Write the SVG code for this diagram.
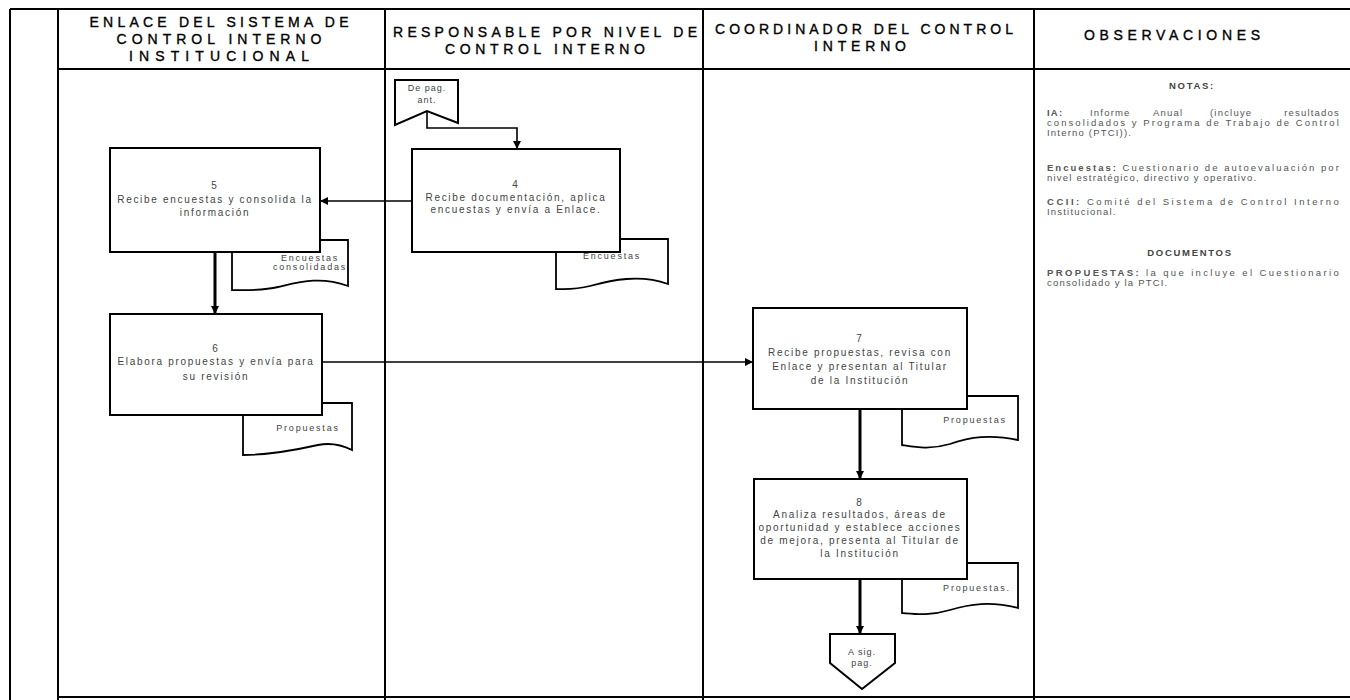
<svg xmlns="http://www.w3.org/2000/svg" width="1350" height="700" viewBox="0 0 1350 700">
<defs>
<marker id="arr" markerWidth="8" markerHeight="8" refX="7" refY="4" orient="auto" markerUnits="userSpaceOnUse">
<path d="M0,0 L8,4 L0,8 Z" fill="#000"/>
</marker>
<style>
.frame{stroke:#000;stroke-width:2;fill:none}
.box{fill:#fff;stroke:#000;stroke-width:2}
.doc{fill:#fff;stroke:#000;stroke-width:1.8}
.hd{font-family:"Liberation Sans",Arial,sans-serif;font-size:14px;fill:#000;stroke:#000;stroke-width:0.35;text-anchor:middle}
.bt{font-family:"Liberation Sans",Arial,sans-serif;font-size:10px;fill:#444;text-anchor:middle;letter-spacing:1.7px}
.dt{font-family:"Liberation Sans",Arial,sans-serif;font-size:9px;fill:#444;text-anchor:middle;letter-spacing:1.8px}
.nt{font-family:"Liberation Sans",Arial,sans-serif;font-size:9.5px;fill:#555;letter-spacing:1.2px}
.nh{font-family:"Liberation Sans",Arial,sans-serif;font-size:9.5px;fill:#444;font-weight:bold;text-anchor:middle;letter-spacing:1.7px}
.nb{font-weight:bold}
.con{stroke:#000;stroke-width:1.6;fill:none}
.conT{stroke:#000;stroke-width:3;fill:none}
</style>
</defs>
<rect width="1350" height="700" fill="#fff"/>

<g id="frame">
<line class="frame" x1="10" y1="9" x2="1350" y2="9"/>
<line class="frame" x1="58" y1="69" x2="1350" y2="69"/>
<line class="frame" x1="10" y1="9" x2="10" y2="700"/>
<line class="frame" x1="58" y1="9" x2="58" y2="700"/>
<line class="frame" x1="385" y1="9" x2="385" y2="700"/>
<line class="frame" x1="703" y1="9" x2="703" y2="700"/>
<line class="frame" x1="1034" y1="9" x2="1034" y2="700"/>
<line class="frame" x1="58" y1="697" x2="1350" y2="697"/>
</g>

<g id="headers">
<text class="hd" x="219" y="27" textLength="259" lengthAdjust="spacing">ENLACE DEL SISTEMA DE</text>
<text class="hd" x="219" y="44" textLength="205" lengthAdjust="spacing">CONTROL INTERNO</text>
<text class="hd" x="219" y="61" textLength="180" lengthAdjust="spacing">INSTITUCIONAL</text>
<text class="hd" x="545" y="37" textLength="304" lengthAdjust="spacing">RESPONSABLE POR NIVEL DE</text>
<text class="hd" x="545" y="54" textLength="200" lengthAdjust="spacing">CONTROL INTERNO</text>
<text class="hd" x="864" y="34" textLength="298" lengthAdjust="spacing">COORDINADOR DEL CONTROL</text>
<text class="hd" x="860" y="51" textLength="92" lengthAdjust="spacing">INTERNO</text>
<text class="hd" x="1172" y="40" textLength="176" lengthAdjust="spacing">OBSERVACIONES</text>
</g>

<g id="docs">
<g id="doc4"><path class="doc" d="M556,239 H668 V284 C640,274 612,280 590,286 C575,290 565,289 556,289 Z"/><text class="dt" x="612" y="259">Encuestas</text></g>
<g id="doc5"><path class="doc" d="M232,240 H348 V286 C320,276 300,282 278,287 C262,291 245,290 232,290 Z"/><text class="dt" x="310" y="261">Encuestas</text><text class="dt" x="310" y="270">consolidadas</text></g>
<g id="doc6"><path class="doc" d="M243,403 H352 V450 C340,444 328,443 318,445 C300,449 270,455 243,455 Z"/><text class="dt" x="308" y="431">Propuestas</text></g>
<g id="doc7"><path class="doc" d="M902,396 H1018 V440 C990,434 970,437 950,444 C930,450 915,447 902,445 Z"/><text class="dt" x="975" y="423">Propuestas</text></g>
<g id="doc8"><path class="doc" d="M902,563 H1018 V608 C990,601 970,604 950,610 C930,616 915,614 902,613 Z"/><text class="dt" x="977" y="591">Propuestas.</text></g>
</g>

<g id="connectors">
<path class="con" d="M427,112 V128 H517 V148" marker-end="url(#arr)"/>
<path class="con" d="M412,201 H321" marker-end="url(#arr)"/>
<path class="conT" d="M215,253 V313" marker-end="url(#arr)"/>
<path class="con" d="M322,362 H752" marker-end="url(#arr)"/>
<path class="conT" d="M860,410 V478" marker-end="url(#arr)"/>
<path class="conT" d="M860,580 V633" marker-end="url(#arr)"/>
</g>

<g id="node-depag">
<path class="box" d="M395,80 H458 V123 L427,111 L395,125 Z"/>
<text class="dt" x="427" y="91" style="letter-spacing:1px">De pag.</text>
<text class="dt" x="427" y="103" style="letter-spacing:1px">ant.</text>
</g>

<g id="node-4">
<rect class="box" x="412" y="149" width="208" height="103"/>
<text class="bt" x="516" y="188">4</text>
<text class="bt" x="516" y="201">Recibe documentación, aplica</text>
<text class="bt" x="516" y="213">encuestas y envía a Enlace.</text>
</g>

<g id="node-5">
<rect class="box" x="110" y="148" width="210" height="104"/>
<text class="bt" x="215" y="189">5</text>
<text class="bt" x="215" y="203">Recibe encuestas y consolida la</text>
<text class="bt" x="215" y="216">información</text>
</g>

<g id="node-6">
<rect class="box" x="110" y="314" width="212" height="101"/>
<text class="bt" x="216" y="352">6</text>
<text class="bt" x="216" y="365">Elabora propuestas y envía para</text>
<text class="bt" x="216" y="380">su revisión</text>
</g>

<g id="node-7">
<rect class="box" x="753" y="308" width="214" height="101"/>
<text class="bt" x="860" y="342">7</text>
<text class="bt" x="860" y="356">Recibe propuestas, revisa con</text>
<text class="bt" x="860" y="370">Enlace y presentan al Titular</text>
<text class="bt" x="860" y="384">de la Institución</text>
</g>

<g id="node-8">
<rect class="box" x="754" y="479" width="213" height="100"/>
<text class="bt" x="860" y="506">8</text>
<text class="bt" x="860" y="518">Analiza resultados, áreas de</text>
<text class="bt" x="860" y="531">oportunidad y establece acciones</text>
<text class="bt" x="860" y="544">de mejora, presenta al Titular de</text>
<text class="bt" x="860" y="557">la Institución</text>
</g>

<g id="node-asig">
<path class="box" d="M830,634 H895 V663 L862,689 L830,663 Z"/>
<text class="dt" x="862" y="655" style="letter-spacing:1px">A sig.</text>
<text class="dt" x="862" y="666" style="letter-spacing:1px">pag.</text>
</g>

<g id="notes">
<text class="nh" x="1192" y="89">NOTAS:</text>
<text class="nt" y="116"><tspan class="nb" x="1047">IA:</tspan><tspan x="1090">Informe</tspan><tspan x="1153">Anual</tspan><tspan x="1210">(incluye</tspan><tspan x="1340" text-anchor="end">resultados</tspan></text>
<text class="nt" x="1047" y="126" textLength="293" lengthAdjust="spacing">consolidados y Programa de Trabajo de Control</text>
<text class="nt" x="1047" y="136">Interno (PTCI)).</text>
<text class="nt" x="1047" y="171" textLength="293" lengthAdjust="spacing"><tspan class="nb">Encuestas:</tspan> Cuestionario de autoevaluación por</text>
<text class="nt" x="1047" y="181">nivel estratégico, directivo y operativo.</text>
<text class="nt" x="1047" y="205" textLength="293" lengthAdjust="spacing"><tspan class="nb">CCII:</tspan> Comité del Sistema de Control Interno</text>
<text class="nt" x="1047" y="215">Institucional.</text>
<text class="nh" x="1190" y="256">DOCUMENTOS</text>
<text class="nt" x="1047" y="276" textLength="293" lengthAdjust="spacing"><tspan class="nb">PROPUESTAS:</tspan> la que incluye el Cuestionario</text>
<text class="nt" x="1047" y="286">consolidado y la PTCI.</text>
</g>
</svg>
